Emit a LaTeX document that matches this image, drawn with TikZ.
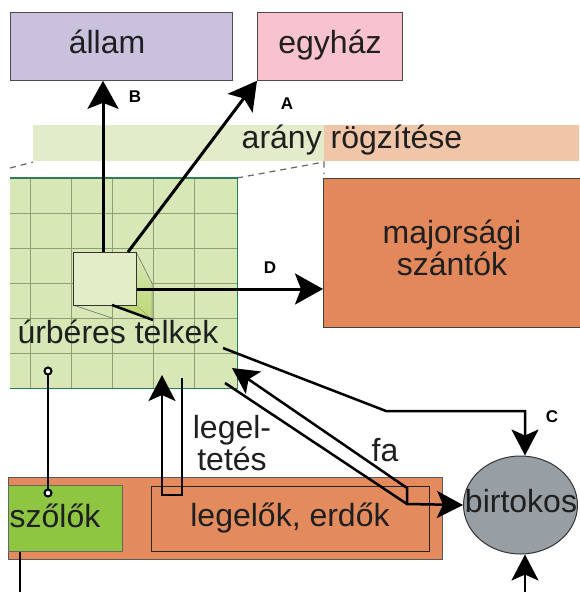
\documentclass[tikz,border=0pt]{standalone}
\usepackage{fontspec}
\setmainfont{Liberation Sans}
\usetikzlibrary{arrows.meta,shapes.geometric}
\definecolor{allamc}{HTML}{C9C1DD}
\definecolor{egyhazc}{HTML}{F8C2CE}
\definecolor{bandg}{HTML}{E2ECCA}
\definecolor{bando}{HTML}{F1C5A7}
\definecolor{gridc}{HTML}{D7E7B6}
\definecolor{gridl}{HTML}{8E9F72}
\definecolor{gridb}{HTML}{2F7D57}
\definecolor{majc}{HTML}{E2885B}
\definecolor{bandb}{HTML}{E38B5D}
\definecolor{szoloc}{HTML}{8EC641}
\definecolor{birtc}{HTML}{979FA5}
\definecolor{cubef}{HTML}{E3EDC8}
\definecolor{cubes}{HTML}{BCD874}
\begin{document}
\begin{tikzpicture}[x=1pt,y=-1pt,
  txt/.style={font=\fontsize{32}{32}\selectfont, inner sep=0pt, text=black!88, anchor=base},
  txtt/.style={font=\fontsize{32}{28}\selectfont, inner sep=0pt, text=black!88, anchor=base, align=center},
  lbl/.style={font=\bfseries\fontsize{17}{17}\selectfont, inner sep=0pt},
  arr/.style={line width=3pt, -{Stealth[length=28pt,width=31pt,inset=6pt]}},
  arrs/.style={line width=2.5pt, -{Stealth[length=26pt,width=27pt,inset=6pt]}},
  conn/.style={line width=2.5pt},
  boxd/.style={draw=black!70, line width=0.8pt, inner sep=0pt, anchor=north west},
  guide/.style={draw=black!60, line width=1.2pt, dash pattern=on 6pt off 5pt},
]
\useasboundingbox (0,0) rectangle (579,592);

% top boxes
\node[boxd, fill=allamc, minimum width=222pt, minimum height=68pt] (allam) at (10,12) {};
\node[txt] (allamt) at (107,53) {állam};
\node[boxd, fill=egyhazc, minimum width=145pt, minimum height=68pt] (egyhaz) at (257,12) {};
\node[txt] (egyhazt) at (330,53) {egyház};

% band
\node[inner sep=0pt, fill=bandg, minimum width=291pt, minimum height=36pt, anchor=north west] (bandl) at (33,125) {};
\node[inner sep=0pt, fill=bando, minimum width=255pt, minimum height=36pt, anchor=north west] (bandr) at (324,125) {};
\node[txt] (arany) at (352,148) {arány rögzítése};

% majorsagi
\node[boxd, draw=black!75, fill=majc, minimum width=258pt, minimum height=149pt] (majorsagi) at (323,178) {};
\node[txtt] (maj) at (452,275) {majorsági\\szántók};

% dashed guides
\coordinate (dl1) at (10,168);
\coordinate (dl2) at (33,162);
\coordinate (dr1) at (237,178);
\coordinate (dr2) at (324,162);
\coordinate (dr3) at (324,174);
\draw[guide] (dl1) -- (dl2);
\draw[guide] (dr1) -- (dr2) -- (dr3);

% grid
\node[inner sep=0pt, fill=gridc, minimum width=227pt, minimum height=210pt, anchor=north west] (grid) at (10,178) {};
\foreach \x in {30,71,112,153,194} \draw[gridl, line width=1pt] (\x,178) -- (\x,388);
\foreach \y in {213,248,283,318,353} \draw[gridl, line width=1pt] (10,\y) -- (237,\y);
\draw[gridb, line width=1.6pt] (grid.north west) -- (grid.north east) -- (grid.south east) -- (grid.south west);

% cube
\shade[top color=gridc, bottom color=cubes, draw=black!60, line width=0.5pt] (136,252) -- (152,283) -- (152,320) -- (136,305) -- cycle;
\fill[cubes] (112,305) -- (136,305) -- (152,320) -- cycle;
\draw[black!60, line width=0.6pt] (73,305) -- (112,318);
\node[boxd, draw=black!80, line width=1pt, fill=cubef, minimum width=63pt, minimum height=53pt] (cube) at (73,252) {};
\draw[line width=2.5pt] (112,305) -- (153,320);

\node[txt] (telkek) at (118,343) {úrbéres telkek};

% bottom band
\node[boxd, draw=black!65, fill=bandb, minimum width=434pt, minimum height=82pt] (bband) at (8,477) {};
\node[boxd, draw=black!60, fill=szoloc, minimum width=114pt, minimum height=66pt] (szolok) at (8,485) {};
\node[txt] (szolokt) at (55,527) {szőlők};
\node[boxd, draw=black!85, line width=1pt, minimum width=278pt, minimum height=65pt] (legelok) at (151,486) {};
\node[txt] (legelokt) at (290,526) {legelők, erdők};

% birtokos
\node[ellipse, draw=black!80, line width=1pt, fill=birtc, minimum width=114pt, minimum height=98pt, inner sep=0pt] (birtokos) at (520.5,505) {};
\node[txt] (birtokost) at (521,512) {birtokos};

% labels
\node[txtt] (legel) at (232,470) {legel-\\tetés};
\node[txt] (fa) at (385,461) {fa};
\node[lbl] (labB) at (135,97) {B};
\node[lbl] (labA) at (287,104) {A};
\node[lbl] (labD) at (270,268) {D};
\node[lbl] (labC) at (552,417) {C};

% arrows
\draw[arr] ([xshift=30pt]cube.north west) -- ([xshift=30pt]cube.north west |- allam.south);
\draw[arr] ([xshift=55pt]cube.north west) -- (egyhaz.south west);
\draw[arr] ([yshift=-10pt]cube.east) -- ([yshift=-10pt]cube.east -| majorsagi.west);

\coordinate (cstart) at (223,348);
\coordinate (cbend) at (386,411);
\coordinate (ctop) at (525,411);
\draw[arrs] (cstart) -- (cbend) -- (ctop) -- ([xshift=4.5pt]birtokos.north);
\coordinate (bottomin) at (525,592);
\draw[arrs] (bottomin) -- ([xshift=4.5pt]birtokos.south);

% fa
\coordinate (fatip) at (232,368);
\coordinate (fa1) at (407,488);
\coordinate (fa2) at (407,504);
\coordinate (fastart) at (225,383);
\draw[arrs, line join=miter] (fa2) -- (fa1) -- (fatip);
\draw[arrs] (fastart) -- (fa2) -- (birtokos.west);

% legeltetes
\coordinate (lg1) at (182,378);
\coordinate (lg2) at (182,495);
\coordinate (lg3) at (162,495);
\coordinate (lg4) at (162,375);
\draw[arrs] (lg1) -- (lg2) -- (lg3) -- (lg4);

% szolok connector
\coordinate (s1) at (48,371);
\coordinate (s2) at (48,493);
\draw[conn] (s1) -- (s2);
\draw[line width=2pt, fill=white] (s1) circle (3.5);
\draw[line width=2pt, fill=white] (s2) circle (3.5);
\coordinate (s3) at (20,592);
\draw[conn] (szolok.south west -| s3) -- (s3);
\end{tikzpicture}
\end{document}
